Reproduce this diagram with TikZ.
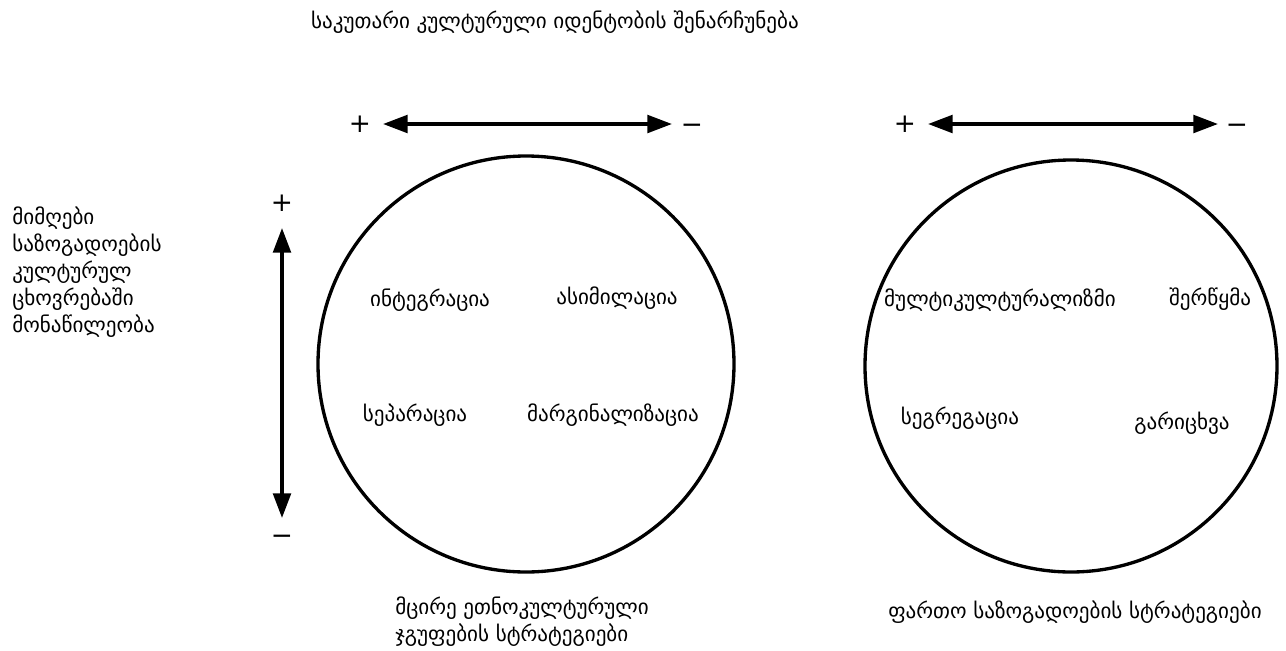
\documentclass[tikz,border=0pt]{standalone}
\usepackage{fontspec}
\setmainfont{DejaVu Sans}
\usetikzlibrary{arrows.meta,positioning}

\begin{document}
\begin{tikzpicture}[x=0.02cm, y=-0.02cm,
    krug/.style={draw, line width=1.9pt},
    arr/.style={{Triangle[length=14pt, width=10pt]}-{Triangle[length=14pt, width=10pt]}, line width=2pt},
    txt/.style={font=\fontsize{12}{15.4}\selectfont, inner sep=0pt},
    znak/.style={font=\fontsize{15}{15}\selectfont, inner sep=0pt}
]
\useasboundingbox (0,0) rectangle (1286,650);

% circles
\draw[krug] (526,364) circle (208);
\draw[krug] (1071,366) circle (206);

% axis labels
\node[txt] (top) at (555,22) {საკუთარი კულტურული იდენტობის შენარჩუნება};
\node[txt, anchor=north west, align=left] (left) at (12,206) {მიმღები\\საზოგადოების\\კულტურულ\\ცხოვრებაში\\მონაწილეობა};

% horizontal arrows
\node[znak] (p1) at (360,124) {+};
\node[znak] (m1) at (692,129) {−};
\coordinate (a1) at (383,124);
\coordinate (b1) at (672,124);
\draw[arr] (a1) -- (b1);

\node[znak] (p2) at (905,124) {+};
\node[znak] (m2) at (1237,129) {−};
\coordinate (a2) at (928,124);
\coordinate (b2) at (1218,124);
\draw[arr] (a2) -- (b2);

% vertical arrow
\node[znak] (p3) at (282,203) {+};
\node[znak] (m3) at (282,540) {−};
\coordinate (a3) at (282,228);
\coordinate (b3) at (282,518);
\draw[arr] (a3) -- (b3);

% left circle
\node[txt] (integ) at (430,300) {ინტეგრაცია};
\node[txt] (asim) at (617,298) {ასიმილაცია};
\node[txt] (separ) at (415,415) {სეპარაცია};
\node[txt] (marg) at (613,415) {მარგინალიზაცია};

% right circle
\node[txt] (multi) at (1000,300) {მულტიკულტურალიზმი};
\node[txt] (shert) at (1210,299) {შერწყმა};
\node[txt] (segr) at (960,418) {სეგრეგაცია};
\node[txt] (gar) at (1182,423) {გარიცხვა};

% captions
\node[txt, anchor=north west, align=left] (cap1) at (395,596) {მცირე ეთნოკულტურული\\ჯგუფების სტრატეგიები};
\node[txt] (cap2) at (1075,612) {ფართო საზოგადოების სტრატეგიები};
\end{tikzpicture}
\end{document}
